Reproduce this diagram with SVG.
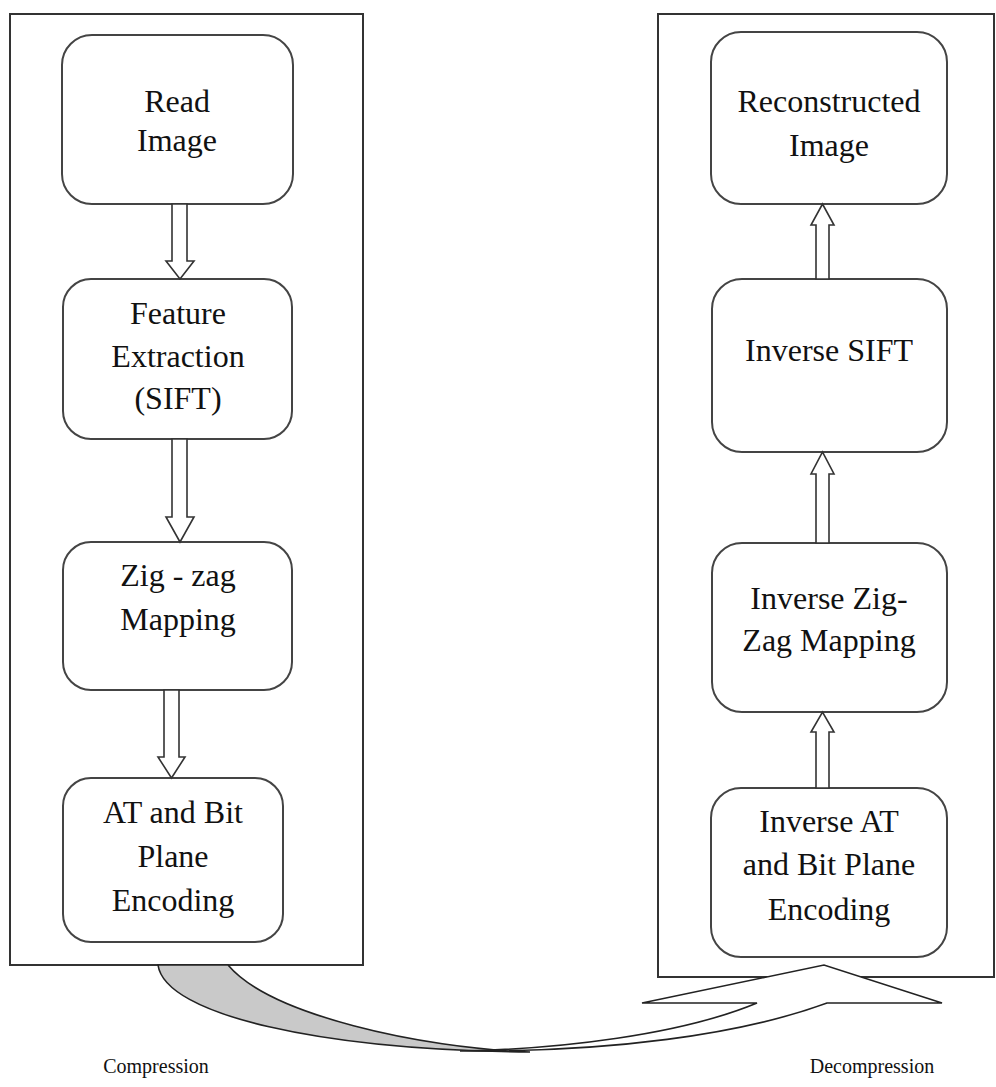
<svg xmlns="http://www.w3.org/2000/svg" width="996" height="1087" viewBox="0 0 996 1087">
<style>
.frame{fill:#fff;stroke:#333;stroke-width:2}
.box{fill:#fff;stroke:#444;stroke-width:2}
.t{font-size:32px;fill:#111;text-anchor:middle}
.lbl{font-size:20px;fill:#111;text-anchor:middle}
.arr{fill:#fff;stroke:#333;stroke-width:1.6;stroke-linejoin:miter}
</style>
<rect width="996" height="1087" fill="#fff"/>
<g font-family="'Liberation Serif', 'Times New Roman', Times, serif">
<g id="compression-frame"><rect class="frame" x="10" y="14" width="353" height="951"/></g>
<g id="decompression-frame"><rect class="frame" x="658" y="14" width="336" height="963"/></g>

<g id="read-image"><rect class="box" x="62" y="35" width="231" height="169" rx="30"/>
<text class="t" x="177" y="112">Read</text><text class="t" x="177" y="151">Image</text></g>
<g id="feature-extraction"><rect class="box" x="63" y="279" width="229" height="160" rx="28"/>
<text class="t" x="178" y="324">Feature</text><text class="t" x="178" y="367">Extraction</text><text class="t" x="178" y="409">(SIFT)</text></g>
<g id="zigzag"><rect class="box" x="63" y="542" width="229" height="148" rx="28"/>
<text class="t" x="178" y="586">Zig - zag</text><text class="t" x="178" y="630">Mapping</text></g>
<g id="at-encoding"><rect class="box" x="63" y="778" width="220" height="164" rx="28"/>
<text class="t" x="173" y="823">AT and Bit</text><text class="t" x="173" y="867">Plane</text><text class="t" x="173" y="911">Encoding</text></g>

<g id="reconstructed"><rect class="box" x="711" y="32" width="236" height="172" rx="30"/>
<text class="t" x="829" y="112">Reconstructed</text><text class="t" x="829" y="156">Image</text></g>
<g id="inverse-sift"><rect class="box" x="712" y="279" width="235" height="173" rx="30"/>
<text class="t" x="829" y="361">Inverse SIFT</text></g>
<g id="inverse-zigzag"><rect class="box" x="712" y="543" width="235" height="169" rx="30"/>
<text class="t" x="829" y="609">Inverse Zig-</text><text class="t" x="829" y="651">Zag Mapping</text></g>
<g id="inverse-at"><rect class="box" x="711" y="788" width="236" height="169" rx="30"/>
<text class="t" x="829" y="832">Inverse AT</text><text class="t" x="829" y="875">and Bit Plane</text><text class="t" x="829" y="920">Encoding</text></g>

<g id="connectors">
<polygon class="arr" points="172,204 187,204 187,261 194,261 180,279 166,261 172,261"/>
<polygon class="arr" points="172,439 187,439 187,517 194,517 180,542 166,517 172,517"/>
<polygon class="arr" points="164,690 179,690 179,757 185,757 171.5,778 158,757 164,757"/>
<polygon class="arr" points="816,279 829,279 829,225 834,225 822.5,204 811,225 816,225"/>
<polygon class="arr" points="816,543 829,543 829,474 834,474 822.5,452 811,474 816,474"/>
<polygon class="arr" points="816,788 829,788 829,732 834,732 822.5,712 811,732 816,732"/>
<g id="curved-arrow">
<path d="M158,965 C165,1015 320,1050 530,1052 C420,1048 270,1015 228,965 Z" fill="#c9c9c9" stroke="#222" stroke-width="1.6"/>
<path d="M460,1051 C610,1052 740,1035 827,1003 L942,1003 L824,965 L642,1003 L757,1003 C680,1035 560,1049 460,1051 Z" fill="#fff" stroke="#222" stroke-width="1.6" stroke-linejoin="miter"/>
</g>
</g>
<text class="lbl" x="156" y="1073">Compression</text>
<text class="lbl" x="872" y="1073">Decompression</text>
</g>
</svg>
